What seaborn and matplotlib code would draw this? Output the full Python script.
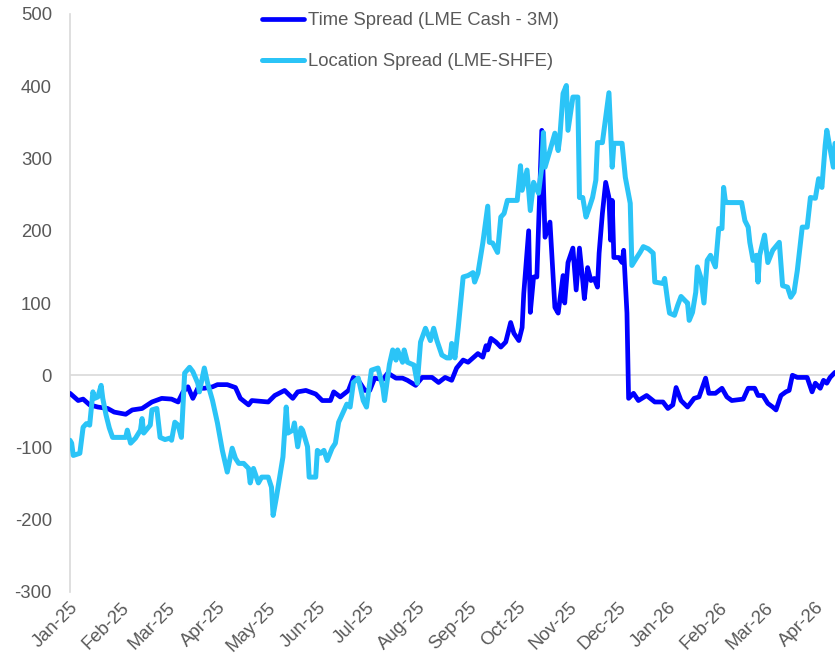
import pandas as pd
import seaborn as sns
import matplotlib.pyplot as plt
import matplotlib.dates as mdates

sns.set_theme(style="white")
plt.rcParams["font.family"] = ["Liberation Sans", "DejaVu Sans"]
plt.rcParams["axes.unicode_minus"] = False

# Time spread (LME Cash - 3M)
ts_dates = [
    "2025-01-01", "2025-01-06", "2025-01-09", "2025-01-13", "2025-01-18", "2025-01-24", "2025-01-28", "2025-02-04", "2025-02-08", "2025-02-14",
    "2025-02-20", "2025-02-26", "2025-03-04", "2025-03-08", "2025-03-11", "2025-03-14", "2025-03-17", "2025-03-20", "2025-03-24", "2025-03-29",
    "2025-04-01", "2025-04-07", "2025-04-12", "2025-04-15", "2025-04-20", "2025-04-22", "2025-05-02", "2025-05-06", "2025-05-12", "2025-05-17",
    "2025-05-20", "2025-05-25", "2025-05-31", "2025-06-04", "2025-06-09", "2025-06-11", "2025-06-15", "2025-06-20", "2025-06-23", "2025-06-26",
    "2025-06-30", "2025-07-03", "2025-07-06", "2025-07-11", "2025-07-14", "2025-07-19", "2025-07-23", "2025-07-26", "2025-07-31", "2025-08-04",
    "2025-08-10", "2025-08-14", "2025-08-18", "2025-08-22", "2025-08-25", "2025-08-29", "2025-09-01", "2025-09-04", "2025-09-07", "2025-09-10",
    "2025-09-12", "2025-09-13", "2025-09-15", "2025-09-18", "2025-09-21", "2025-09-24", "2025-09-27", "2025-09-29", "2025-10-02", "2025-10-04",
    "2025-10-05", "2025-10-08", "2025-10-09", "2025-10-11", "2025-10-13", "2025-10-16", "2025-10-18", "2025-10-21", "2025-10-24", "2025-10-26",
    "2025-10-29", "2025-10-30", "2025-11-01", "2025-11-04", "2025-11-06", "2025-11-08", "2025-11-10", "2025-11-11", "2025-11-13", "2025-11-15",
    "2025-11-17", "2025-11-19", "2025-11-20", "2025-11-22", "2025-11-24", "2025-11-26", "2025-11-27", "2025-11-28", "2025-11-29", "2025-12-02",
    "2025-12-04", "2025-12-05", "2025-12-07", "2025-12-08", "2025-12-11", "2025-12-14", "2025-12-19", "2025-12-24", "2025-12-29", "2026-01-01",
    "2026-01-04", "2026-01-06", "2026-01-09", "2026-01-13", "2026-01-17", "2026-01-20", "2026-01-24", "2026-01-26", "2026-01-30", "2026-02-03",
    "2026-02-06", "2026-02-09", "2026-02-16", "2026-02-19", "2026-02-23", "2026-02-25", "2026-02-28", "2026-03-03", "2026-03-06", "2026-03-08",
    "2026-03-11", "2026-03-14", "2026-03-16", "2026-03-18", "2026-03-21", "2026-03-27", "2026-03-30", "2026-04-01", "2026-04-04", "2026-04-06",
    "2026-04-08", "2026-04-10", "2026-04-13",
]
ts_values = [
    -25, -35, -33, -41, -44, -46, -51, -54, -48, -46,
    -37, -32, -33, -37, -23, -16, -32, -18, -18, -16,
    -13, -13, -17, -32, -41, -35, -37, -28, -21, -32,
    -23, -21, -26, -35, -35, -23, -30, -21, -3, -7,
    -21, -21, -4, -6, 3, -4, -4, -7, -14, -3,
    -3, -10, -3, -7, 10, 21, 18, 24, 30, 25,
    41, 35, 51, 46, 39, 46, 73, 58, 48, 66,
    113, 200, 87, 136, 136, 339, 191, 212, 94, 86,
    138, 100, 156, 176, 118, 176, 131, 106, 149, 131,
    134, 122, 169, 224, 267, 246, 187, 242, 163, 163,
    156, 173, 86, -32, -25, -35, -28, -37, -37, -46,
    -41, -17, -35, -44, -32, -30, -4, -25, -25, -18,
    -30, -35, -33, -18, -18, -28, -28, -39, -44, -48,
    -28, -23, -21, 0, -3, -3, -23, -11, -18, -7,
    -11, -3, 4,
]

# Location spread (LME-SHFE)
ls_dates = [
    "2025-01-01", "2025-01-02", "2025-01-03", "2025-01-07", "2025-01-09", "2025-01-11", "2025-01-13", "2025-01-15", "2025-01-16", "2025-01-18",
    "2025-01-20", "2025-01-21", "2025-01-23", "2025-01-25", "2025-01-27", "2025-02-04", "2025-02-05", "2025-02-07", "2025-02-10", "2025-02-13",
    "2025-02-14", "2025-02-15", "2025-02-19", "2025-02-20", "2025-02-23", "2025-02-25", "2025-02-28", "2025-03-03", "2025-03-04", "2025-03-06",
    "2025-03-08", "2025-03-10", "2025-03-12", "2025-03-15", "2025-03-17", "2025-03-20", "2025-03-21", "2025-03-24", "2025-03-26", "2025-03-29",
    "2025-04-01", "2025-04-04", "2025-04-07", "2025-04-10", "2025-04-12", "2025-04-14", "2025-04-17", "2025-04-20", "2025-04-21", "2025-04-23",
    "2025-04-26", "2025-04-28", "2025-05-02", "2025-05-04", "2025-05-05", "2025-05-07", "2025-05-11", "2025-05-13", "2025-05-14", "2025-05-17",
    "2025-05-18", "2025-05-20", "2025-05-22", "2025-05-23", "2025-05-26", "2025-05-27", "2025-05-31", "2025-06-01", "2025-06-03", "2025-06-05",
    "2025-06-07", "2025-06-10", "2025-06-12", "2025-06-14", "2025-06-16", "2025-06-19", "2025-06-21", "2025-06-23", "2025-06-26", "2025-06-29",
    "2025-07-01", "2025-07-04", "2025-07-08", "2025-07-11", "2025-07-12", "2025-07-15", "2025-07-17", "2025-07-19", "2025-07-20", "2025-07-23",
    "2025-07-24", "2025-07-26", "2025-07-30", "2025-08-01", "2025-08-03", "2025-08-06", "2025-08-09", "2025-08-11", "2025-08-13", "2025-08-16",
    "2025-08-19", "2025-08-21", "2025-08-22", "2025-08-24", "2025-08-26", "2025-08-29", "2025-09-01", "2025-09-04", "2025-09-05", "2025-09-07",
    "2025-09-10", "2025-09-13", "2025-09-14", "2025-09-16", "2025-09-19", "2025-09-21", "2025-09-23", "2025-09-25", "2025-10-01", "2025-10-03",
    "2025-10-04", "2025-10-07", "2025-10-09", "2025-10-11", "2025-10-14", "2025-10-16", "2025-10-17", "2025-10-18", "2025-10-21", "2025-10-24",
    "2025-10-26", "2025-10-27", "2025-10-29", "2025-10-31", "2025-11-01", "2025-11-04", "2025-11-07", "2025-11-08", "2025-11-10", "2025-11-12",
    "2025-11-14", "2025-11-16", "2025-11-18", "2025-11-19", "2025-11-22", "2025-11-24", "2025-11-26", "2025-11-28", "2025-11-29", "2025-12-04",
    "2025-12-06", "2025-12-09", "2025-12-10", "2025-12-13", "2025-12-15", "2025-12-17", "2025-12-20", "2025-12-23", "2025-12-24", "2025-12-29",
    "2025-12-30", "2026-01-01", "2026-01-02", "2026-01-05", "2026-01-07", "2026-01-09", "2026-01-12", "2026-01-13", "2026-01-14", "2026-01-16",
    "2026-01-18", "2026-01-19", "2026-01-21", "2026-01-23", "2026-01-25", "2026-01-27", "2026-01-30", "2026-02-01", "2026-02-03", "2026-02-04",
    "2026-02-05", "2026-02-06", "2026-02-15", "2026-02-17", "2026-02-19", "2026-02-20", "2026-02-22", "2026-02-24", "2026-02-25", "2026-02-26",
    "2026-03-01", "2026-03-03", "2026-03-06", "2026-03-10", "2026-03-12", "2026-03-15", "2026-03-17", "2026-03-19", "2026-03-21", "2026-03-24",
    "2026-03-27", "2026-03-29", "2026-04-01", "2026-04-03", "2026-04-05", "2026-04-07", "2026-04-08", "2026-04-12", "2026-04-13",
]
ls_values = [
    -90, -94, -111, -108, -72, -67, -69, -23, -32, -30,
    -14, -32, -55, -73, -86, -86, -76, -94, -87, -76,
    -60, -80, -69, -48, -46, -86, -89, -87, -90, -65,
    -69, -86, 3, 11, 5, -11, -23, 10, -11, -35,
    -66, -104, -134, -101, -115, -122, -122, -129, -149, -129,
    -149, -141, -141, -155, -194, -169, -113, -44, -80, -76,
    -66, -99, -73, -76, -99, -141, -141, -104, -108, -104,
    -118, -101, -94, -65, -55, -40, -44, -10, -4, -35,
    -44, 7, 10, -17, -35, 15, 35, 21, 35, 18,
    35, 18, 14, -11, 46, 65, 48, 65, 48, 28,
    24, 24, 44, 24, 66, 136, 138, 142, 129, 141,
    183, 234, 184, 183, 170, 219, 224, 242, 242, 290,
    256, 284, 228, 267, 252, 288, 336, 288, 311, 335,
    311, 329, 390, 401, 339, 385, 385, 246, 246, 219,
    232, 246, 270, 322, 322, 357, 391, 288, 321, 321,
    274, 238, 152, 163, 170, 178, 175, 169, 129, 127,
    134, 100, 86, 83, 97, 109, 102, 100, 76, 87,
    115, 150, 136, 100, 159, 166, 150, 203, 203, 260,
    242, 239, 239, 214, 205, 184, 159, 166, 129, 166,
    194, 156, 173, 184, 124, 122, 108, 115, 145, 205,
    205, 246, 245, 272, 260, 318, 339, 288, 321,
]

ts = pd.DataFrame({"date": pd.to_datetime(ts_dates), "value": ts_values})
ls = pd.DataFrame({"date": pd.to_datetime(ls_dates), "value": ls_values})

grey = "#595959"
fig = plt.figure(figsize=(8.35, 6.6), dpi=100)
ax = fig.add_axes([70 / 835, 68 / 660, 765 / 835, 578 / 660])

ax.axhline(0, color="#D9D9D9", lw=1.2, zorder=1)
sns.lineplot(data=ts, x="date", y="value", ax=ax, color="#0000FF", lw=3.4,
             label="Time Spread (LME Cash - 3M)", zorder=3, solid_joinstyle="round")
sns.lineplot(data=ls, x="date", y="value", ax=ax, color="#2BC4F7", lw=3.6,
             label="Location Spread (LME-SHFE)", zorder=4, solid_joinstyle="round")

ax.set_ylim(-300, 500)
ax.set_yticks(range(-300, 501, 100))
ax.set_xlim(pd.Timestamp("2025-01-01"), pd.Timestamp("2026-04-13"))
ax.xaxis.set_major_locator(mdates.MonthLocator())
ax.xaxis.set_major_formatter(mdates.DateFormatter("%b-%y"))
ax.set_xlabel("")
ax.set_ylabel("")

for side in ["top", "right", "bottom"]:
    ax.spines[side].set_visible(False)
ax.spines["left"].set_color("#D9D9D9")
ax.spines["left"].set_linewidth(1.2)

ax.tick_params(axis="both", length=0, labelsize=13.3, labelcolor=grey)
ax.tick_params(axis="y", pad=13)
ax.tick_params(axis="x", pad=5)
plt.setp(ax.get_xticklabels(), rotation=45, ha="right", rotation_mode="anchor")

leg = ax.legend(loc="upper left", bbox_to_anchor=(262 / 835, 1 - 12 / 660),
                bbox_transform=fig.transFigure, frameon=False, fontsize=13.3,
                handlelength=2.3, handletextpad=0.2, labelspacing=1.3,
                borderpad=0, borderaxespad=0, labelcolor=grey)
for line in leg.get_lines():
    line.set_solid_capstyle("round")

fig.savefig("out.png", dpi=100)
